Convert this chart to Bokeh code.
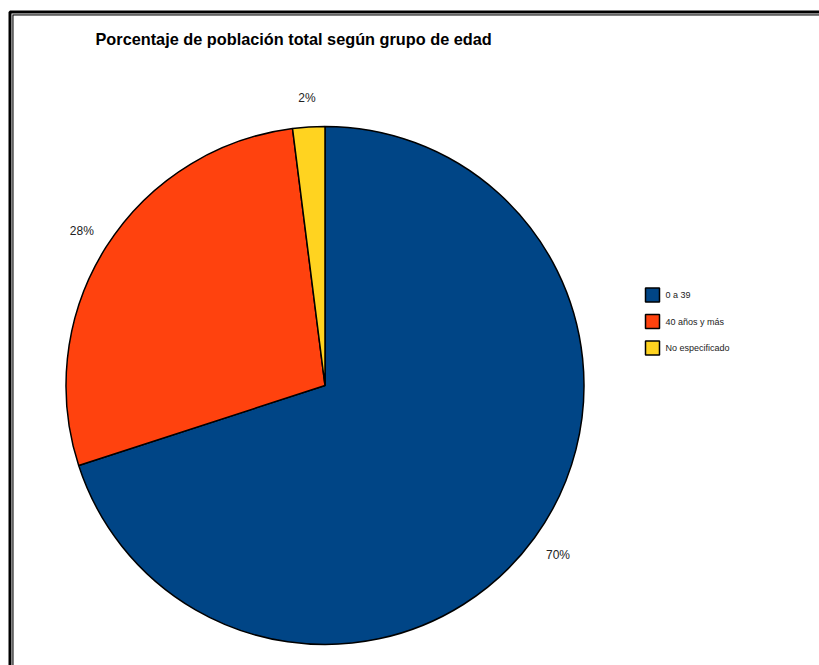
import numpy as np
from bokeh.plotting import figure
from bokeh.models import Range1d
from bokeh.core.properties import value
from bokeh.embed import file_html
from bokeh.resources import INLINE

# Age groups and their share of the total population (%)
categories = ["0 a 39", "40 años y más", "No especificado"]
shares = [70, 28, 2]
colors = ["#004586", "#FF420E", "#FFD320"]
title_text = "Porcentaje de población total según grupo de edad"

W, H = 819, 665
FONT = "Liberation Sans"

p = figure(width=W, height=H, x_range=Range1d(0, W), y_range=Range1d(0, H),
           x_axis_type=None, y_axis_type=None, toolbar_location=None,
           output_backend="svg", min_border=0, outline_line_color=None,
           background_fill_color="white", border_fill_color="white")
p.grid.visible = False

def py(y):
    """Top-down pixel row to data y."""
    return H - y

# Frame: thick outer rule, thin grey gap, thin inner rule
for off, col, lw in [(0.0, "black", 3), (2.0, "#888888", 1), (3.0, "black", 1)]:
    x0, y0 = 9.5 + off, 11.5 + off
    p.line([x0, x0, W + 20], [py(H + 20), py(y0), py(y0)], line_color=col, line_width=lw)

# Title
p.text(x=[95], y=[py(38)], text=[title_text], text_font=value(FONT),
       text_font_size="16.3px", text_font_style="bold", text_color="black",
       text_align="left", text_baseline="middle")

# Pie, starting at 12 o'clock and running clockwise
cx, cy, R = 324.5, py(385), 259
frac = np.array(shares, dtype=float) / sum(shares)
cum = np.concatenate([[0], np.cumsum(frac)])
start = np.pi / 2 - cum[:-1] * 2 * np.pi
end = np.pi / 2 - cum[1:] * 2 * np.pi
p.wedge(x=cx, y=cy, radius=R, start_angle=start, end_angle=end,
        direction="clock", fill_color=colors, line_color="black", line_width=1.5)

# Percentage labels outside each slice
mid = (start + end) / 2
LR = 288
lx = cx + LR * np.cos(mid)
ly = cy + LR * np.sin(mid)
p.text(x=lx, y=ly, text=[f"{s}%" for s in shares], text_font=value(FONT),
       text_font_size="12px", text_color="#222222", text_align="center",
       text_baseline="middle")

# Legend
ly0, step = 294.5, 26.5
rows = [py(ly0 + i * step) for i in range(len(categories))]
p.rect(x=[652] * len(categories), y=rows, width=14, height=14,
       fill_color=colors, line_color="black", line_width=1.5)
p.text(x=[665] * len(categories), y=rows, text=categories, text_font=value(FONT),
       text_font_size="9px", text_color="#222222", text_align="left",
       text_baseline="middle")

open("out.html", "w").write(file_html(p, INLINE))
